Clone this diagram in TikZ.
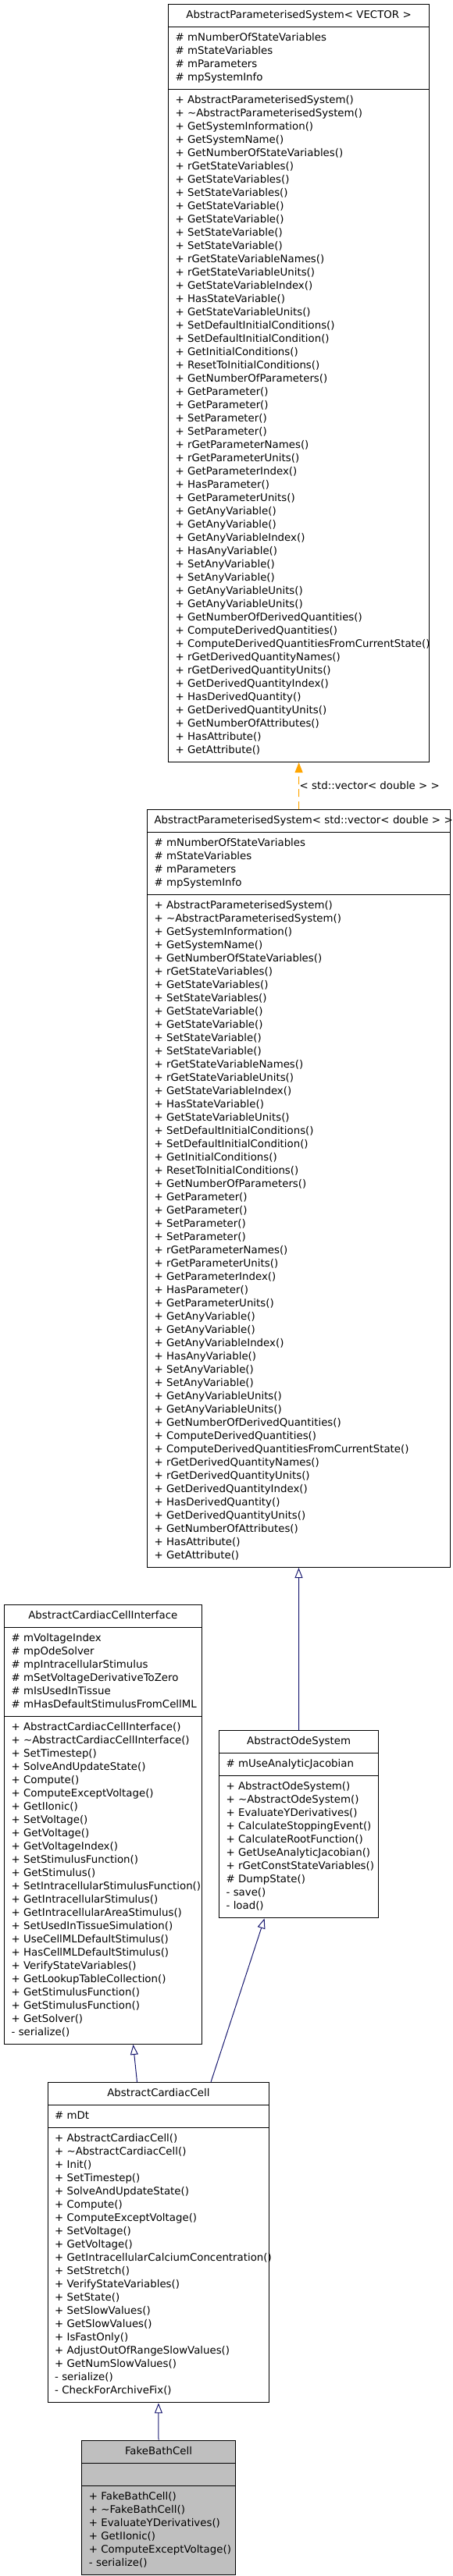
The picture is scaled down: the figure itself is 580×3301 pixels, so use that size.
\documentclass[tikz,border=0pt]{standalone}
\usepackage{fontspec}
\setmainfont{DejaVu Sans}
\usetikzlibrary{arrows.meta,calc,shapes.multipart}
\definecolor{edgec}{RGB}{25,25,112}
\definecolor{tmplc}{RGB}{255,165,0}
\definecolor{focusc}{RGB}{191,191,191}
\newcommand{\member}[1]{\noindent\strut\mbox{#1}\par}
\newcommand{\classname}[1]{\centering\noindent\strut\mbox{#1}\par}
% members shared by both parameterised system boxes
\newcommand{\apsattrs}{%
  \member{\# mNumberOfStateVariables}
  \member{\# mStateVariables}
  \member{\# mParameters}
  \member{\# mpSystemInfo}}
\newcommand{\apsmethods}{%
  \member{+ AbstractParameterisedSystem()}
  \member{+ \textasciitilde AbstractParameterisedSystem()}
  \member{+ GetSystemInformation()}
  \member{+ GetSystemName()}
  \member{+ GetNumberOfStateVariables()}
  \member{+ rGetStateVariables()}
  \member{+ GetStateVariables()}
  \member{+ SetStateVariables()}
  \member{+ GetStateVariable()}
  \member{+ GetStateVariable()}
  \member{+ SetStateVariable()}
  \member{+ SetStateVariable()}
  \member{+ rGetStateVariableNames()}
  \member{+ rGetStateVariableUnits()}
  \member{+ GetStateVariableIndex()}
  \member{+ HasStateVariable()}
  \member{+ GetStateVariableUnits()}
  \member{+ SetDefaultInitialConditions()}
  \member{+ SetDefaultInitialCondition()}
  \member{+ GetInitialConditions()}
  \member{+ ResetToInitialConditions()}
  \member{+ GetNumberOfParameters()}
  \member{+ GetParameter()}
  \member{+ GetParameter()}
  \member{+ SetParameter()}
  \member{+ SetParameter()}
  \member{+ rGetParameterNames()}
  \member{+ rGetParameterUnits()}
  \member{+ GetParameterIndex()}
  \member{+ HasParameter()}
  \member{+ GetParameterUnits()}
  \member{+ GetAnyVariable()}
  \member{+ GetAnyVariable()}
  \member{+ GetAnyVariableIndex()}
  \member{+ HasAnyVariable()}
  \member{+ SetAnyVariable()}
  \member{+ SetAnyVariable()}
  \member{+ GetAnyVariableUnits()}
  \member{+ GetAnyVariableUnits()}
  \member{+ GetNumberOfDerivedQuantities()}
  \member{+ ComputeDerivedQuantities()}
  \member{+ ComputeDerivedQuantitiesFromCurrentState()}
  \member{+ rGetDerivedQuantityNames()}
  \member{+ rGetDerivedQuantityUnits()}
  \member{+ GetDerivedQuantityIndex()}
  \member{+ HasDerivedQuantity()}
  \member{+ GetDerivedQuantityUnits()}
  \member{+ GetNumberOfAttributes()}
  \member{+ HasAttribute()}
  \member{+ GetAttribute()}}
\tikzset{
  classbox/.style = {rectangle split, rectangle split parts=3, draw=black, line width=0.75pt,
                     text width=#1, inner xsep=6.75pt, inner ysep=4.125pt, align=left,
                     anchor=north west, font=\fontsize{10}{12.75}\selectfont},
  focus/.style    = {fill=focusc},
  inherit/.style  = {-{Triangle[open, length=9.75pt, width=7.5pt]}, draw=edgec, line width=0.75pt},
  tmpl/.style     = {-{Triangle[length=9.75pt, width=7.5pt]}, draw=tmplc,
                     dash pattern=on 7.5pt off 4.5pt, line width=0.75pt},
  lbl/.style      = {font=\fontsize{10}{12.75}\selectfont, inner sep=0.5pt},
}

\begin{document}
\begin{tikzpicture}[x=0.75pt, y=-0.75pt]
\useasboundingbox (0,0) rectangle (580,3301);

\node[classbox=237.2pt] (apsv) at (215,5) {\classname{AbstractParameterisedSystem< VECTOR >}
  \nodepart{two}\apsattrs
  \nodepart{three}\apsmethods};

\node[classbox=277.5pt] (apsd) at (188,1037) {\classname{AbstractParameterisedSystem< std::vector< double > >}
  \nodepart{two}\apsattrs
  \nodepart{three}\apsmethods};

\node[classbox=176pt] (acci) at (5,2056) {\classname{AbstractCardiacCellInterface}
  \nodepart{two}
  \member{\# mVoltageIndex}
  \member{\# mpOdeSolver}
  \member{\# mpIntracellularStimulus}
  \member{\# mSetVoltageDerivativeToZero}
  \member{\# mIsUsedInTissue}
  \member{\# mHasDefaultStimulusFromCellML}
  \nodepart{three}
  \member{+ AbstractCardiacCellInterface()}
  \member{+ \textasciitilde AbstractCardiacCellInterface()}
  \member{+ SetTimestep()}
  \member{+ SolveAndUpdateState()}
  \member{+ Compute()}
  \member{+ ComputeExceptVoltage()}
  \member{+ GetIIonic()}
  \member{+ SetVoltage()}
  \member{+ GetVoltage()}
  \member{+ GetVoltageIndex()}
  \member{+ SetStimulusFunction()}
  \member{+ GetStimulus()}
  \member{+ SetIntracellularStimulusFunction()}
  \member{+ GetIntracellularStimulus()}
  \member{+ GetIntracellularAreaStimulus()}
  \member{+ SetUsedInTissueSimulation()}
  \member{+ UseCellMLDefaultStimulus()}
  \member{+ HasCellMLDefaultStimulus()}
  \member{+ VerifyStateVariables()}
  \member{+ GetLookupTableCollection()}
  \member{+ GetStimulusFunction()}
  \member{+ GetStimulusFunction()}
  \member{+ GetSolver()}
  \member{- serialize()}};

\node[classbox=139.7pt] (ode) at (280,2217.3) {\classname{AbstractOdeSystem}
  \nodepart{two}
  \member{\# mUseAnalyticJacobian}
  \nodepart{three}
  \member{+ AbstractOdeSystem()}
  \member{+ \textasciitilde AbstractOdeSystem()}
  \member{+ EvaluateYDerivatives()}
  \member{+ CalculateStoppingEvent()}
  \member{+ CalculateRootFunction()}
  \member{+ GetUseAnalyticJacobian()}
  \member{+ rGetConstStateVariables()}
  \member{\# DumpState()}
  \member{- save()}
  \member{- load()}};

\node[classbox=199.4pt] (acc) at (60.5,2668.3) {\classname{AbstractCardiacCell}
  \nodepart{two}
  \member{\# mDt}
  \nodepart{three}
  \member{+ AbstractCardiacCell()}
  \member{+ \textasciitilde AbstractCardiacCell()}
  \member{+ Init()}
  \member{+ SetTimestep()}
  \member{+ SolveAndUpdateState()}
  \member{+ Compute()}
  \member{+ ComputeExceptVoltage()}
  \member{+ SetVoltage()}
  \member{+ GetVoltage()}
  \member{+ GetIntracellularCalciumConcentration()}
  \member{+ SetStretch()}
  \member{+ VerifyStateVariables()}
  \member{+ SetState()}
  \member{+ SetSlowValues()}
  \member{+ GetSlowValues()}
  \member{+ IsFastOnly()}
  \member{+ AdjustOutOfRangeSlowValues()}
  \member{+ GetNumSlowValues()}
  \member{- serialize()}
  \member{- CheckForArchiveFix()}};

\node[classbox=133.8pt, focus] (fake) at (104.3,3126.7) {\classname{FakeBathCell}
  \nodepart{two}
  \member{}
  \nodepart{three}
  \member{+ FakeBathCell()}
  \member{+ \textasciitilde FakeBathCell()}
  \member{+ EvaluateYDerivatives()}
  \member{+ GetIIonic()}
  \member{+ ComputeExceptVoltage()}
  \member{- serialize()}};

\draw[tmpl] (apsd.north) -- node[lbl, right] {< std::vector< double > >} (apsv.south);
\draw[inherit] (ode.north) -- (apsd.south);
\draw[inherit] ($(acc.north)+(-27.4,0)$) -- ($(acci.south)+(38.7,0)$);
\draw[inherit] ($(acc.north)+(67,0)$) -- ($(ode.south)+(-44,0)$);
\draw[inherit] (fake.north) -- (acc.south);

\end{tikzpicture}
\end{document}
